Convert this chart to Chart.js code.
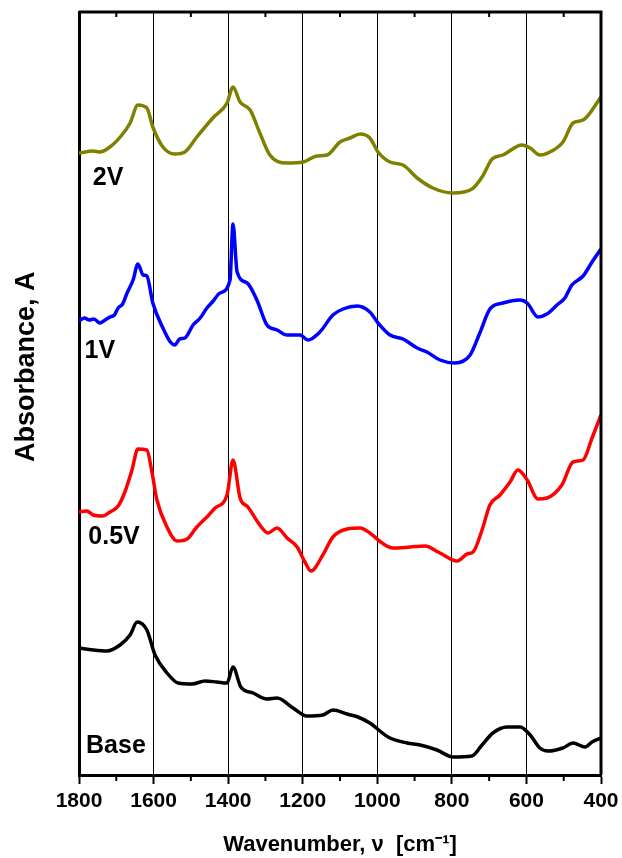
<!DOCTYPE html>
<html>
<head>
<meta charset="utf-8">
<script src="https://cdn.jsdelivr.net/npm/chart.js@4/dist/chart.umd.min.js"></script>
<style>
  html, body { margin: 0; padding: 0; background: #fff; }
  #wrap { width: 622px; height: 858px; position: relative; }
</style>
</head>
<body>
<div id="wrap"><canvas id="chart"></canvas></div>
<script>
'use strict';

// ── Spectra (wavenumber cm-1 / absorbance, offset per curve) ──
const WN_2V = [1800, 1762, 1744, 1717, 1685, 1663, 1642, 1618, 1602, 1575, 1543, 1516, 1484, 1441, 1403, 1387, 1368, 1341, 1315, 1288, 1242, 1199, 1162, 1135, 1100, 1073, 1046, 1020, 998, 966, 931, 893, 851, 797, 746, 719, 692, 663, 612, 590, 564, 537, 502, 475, 448, 400];
const A_2V  = [6.22, 6.24, 6.23, 6.28, 6.40, 6.52, 6.70, 6.67, 6.48, 6.28, 6.21, 6.23, 6.38, 6.57, 6.72, 6.88, 6.73, 6.65, 6.42, 6.20, 6.12, 6.13, 6.19, 6.20, 6.33, 6.37, 6.41, 6.37, 6.23, 6.13, 6.10, 5.97, 5.87, 5.82, 5.86, 5.98, 6.16, 6.20, 6.30, 6.27, 6.20, 6.23, 6.33, 6.52, 6.55, 6.78];

const WN_1V = [1800, 1785, 1773, 1760, 1744, 1730, 1717, 1705, 1695, 1683, 1671, 1655, 1642, 1628, 1618, 1602, 1575, 1555, 1543, 1530, 1516, 1494, 1475, 1457, 1440, 1422, 1395, 1387, 1376, 1349, 1323, 1296, 1269, 1242, 1207, 1186, 1154, 1119, 1092, 1054, 1020, 998, 966, 931, 893, 867, 832, 792, 751, 725, 698, 663, 617, 598, 569, 545, 518, 497, 478, 448, 424, 400];
const A_1V  = [4.54, 4.57, 4.55, 4.56, 4.52, 4.55, 4.58, 4.60, 4.67, 4.71, 4.82, 4.95, 5.11, 5.00, 4.99, 4.72, 4.47, 4.33, 4.30, 4.36, 4.37, 4.50, 4.57, 4.67, 4.74, 4.82, 4.95, 5.51, 5.03, 4.92, 4.75, 4.50, 4.45, 4.40, 4.40, 4.35, 4.43, 4.60, 4.66, 4.69, 4.63, 4.52, 4.40, 4.36, 4.27, 4.23, 4.15, 4.12, 4.20, 4.42, 4.66, 4.72, 4.75, 4.72, 4.58, 4.61, 4.70, 4.77, 4.90, 4.99, 5.13, 5.26];

const WN_05V = [1800, 1779, 1762, 1736, 1717, 1695, 1677, 1658, 1642, 1618, 1604, 1591, 1564, 1537, 1510, 1484, 1457, 1435, 1403, 1387, 1368, 1347, 1315, 1293, 1269, 1242, 1215, 1194, 1178, 1146, 1119, 1081, 1046, 1020, 987, 958, 912, 872, 832, 786, 759, 743, 719, 698, 671, 644, 623, 598, 569, 545, 505, 475, 448, 424, 400];
const A_05V  = [2.63, 2.64, 2.60, 2.59, 2.63, 2.69, 2.83, 3.05, 3.26, 3.25, 3.02, 2.75, 2.48, 2.34, 2.36, 2.48, 2.58, 2.67, 2.80, 3.15, 2.77, 2.68, 2.50, 2.42, 2.47, 2.37, 2.28, 2.13, 2.04, 2.20, 2.38, 2.46, 2.47, 2.42, 2.32, 2.27, 2.28, 2.29, 2.22, 2.14, 2.21, 2.23, 2.45, 2.70, 2.80, 2.93, 3.05, 2.95, 2.76, 2.77, 2.90, 3.13, 3.15, 3.37, 3.60];

const WN_BASE = [1800, 1762, 1725, 1690, 1663, 1644, 1618, 1596, 1564, 1534, 1497, 1462, 1430, 1403, 1387, 1366, 1333, 1296, 1269, 1226, 1189, 1146, 1119, 1081, 1052, 1020, 971, 920, 885, 840, 797, 746, 719, 690, 652, 617, 590, 564, 542, 502, 475, 443, 424, 400];
const A_BASE  = [1.27, 1.25, 1.24, 1.30, 1.40, 1.53, 1.45, 1.20, 1.02, 0.92, 0.91, 0.94, 0.93, 0.92, 1.08, 0.88, 0.82, 0.76, 0.77, 0.67, 0.59, 0.60, 0.65, 0.61, 0.58, 0.52, 0.38, 0.32, 0.30, 0.25, 0.18, 0.19, 0.30, 0.42, 0.48, 0.48, 0.40, 0.27, 0.24, 0.27, 0.32, 0.28, 0.33, 0.37];

const SERIES_NAMES  = ['2V', '1V', '0.5V', 'Base'];
const SERIES_COLORS = ['#808000', '#0000ff', '#ff0000', '#000000'];
// curve labels, anchored in data units (wavenumber, absorbance)
const LABEL_WN = [1722, 1744, 1706, 1701];
const LABEL_A  = [5.97, 4.24, 2.38, 0.29];

const X_TICKS = [1800, 1600, 1400, 1200, 1000, 800, 600, 400];
const Y_TITLE = 'Absorbance, A';

const FONT = 'Arial, "Liberation Sans", Helvetica, sans-serif';

function pts(xs, ys) { return xs.map((x, i) => ({ x, y: ys[i] })); }

// ── Frame: top/right border, minor ticks, curve labels, y title ──
const framePlugin = {
  id: 'frame',
  afterDraw(chart) {
    const { ctx, chartArea: a, scales } = chart;
    const x = scales.x;
    ctx.save();
    ctx.strokeStyle = '#000';
    ctx.lineWidth = 3;
    ctx.beginPath();
    ctx.moveTo(a.left, a.top);
    ctx.lineTo(a.right, a.top);
    ctx.lineTo(a.right, a.bottom);
    ctx.stroke();

    // minor ticks every 100 cm-1
    ctx.lineWidth = 2;
    ctx.beginPath();
    for (let w = 1700; w > 400; w -= 200) {
      const px = x.getPixelForValue(w);
      ctx.moveTo(px, a.bottom);
      ctx.lineTo(px, a.bottom + 6);
      ctx.moveTo(px, a.top);
      ctx.lineTo(px, a.top + 5);
    }
    ctx.stroke();

    // curve labels
    ctx.fillStyle = '#000';
    ctx.font = 'bold 25px ' + FONT;
    ctx.textAlign = 'center';
    ctx.textBaseline = 'middle';
    SERIES_NAMES.forEach((name, i) => {
      ctx.fillText(name, x.getPixelForValue(LABEL_WN[i]), scales.y.getPixelForValue(LABEL_A[i]));
    });

    // y axis title, sits a little above the axis centre
    ctx.font = 'bold 27px ' + FONT;
    ctx.translate(scales.y.left + 27, a.top + (a.bottom - a.top) * 0.465);
    ctx.rotate(-Math.PI / 2);
    ctx.fillText(Y_TITLE, 0, 0);
    ctx.restore();
  }
};

new Chart(document.getElementById('chart'), {
  type: 'line',
  data: {
    datasets: [
      { label: '2V',   data: pts(WN_2V, A_2V) },
      { label: '1V',   data: pts(WN_1V, A_1V) },
      { label: '0.5V', data: pts(WN_05V, A_05V) },
      { label: 'Base', data: pts(WN_BASE, A_BASE) },
    ].map((d, i) => Object.assign(d, {
      borderColor: SERIES_COLORS[i],
      borderWidth: 3.5,
      pointRadius: 0,
      fill: false,
      cubicInterpolationMode: 'monotone',
    })),
  },
  options: {
    animation: false,
    responsive: true,
    maintainAspectRatio: false,
    layout: { padding: { top: 12, right: 21, bottom: 0, left: 0 } },
    plugins: { legend: { display: false }, tooltip: { enabled: false } },
    scales: {
      x: {
        type: 'linear',
        reverse: true,
        min: 400,
        max: 1800,
        afterBuildTicks: s => { s.ticks = X_TICKS.map(v => ({ value: v })); },
        afterFit: s => { s.height = 83; s.paddingLeft = 0; s.paddingRight = 0; },
        ticks: {
          color: '#000',
          padding: 5,
          maxRotation: 0,
          callback: v => String(v),
          font: { family: FONT, size: 21, weight: 'bold' },
        },
        grid: { color: '#000', lineWidth: 1, tickLength: 9, tickWidth: 2, tickColor: '#000' },
        border: { display: true, color: '#000', width: 3 },
        title: {
          display: true,
          text: 'Wavenumber, \u03bd  [cm\u207b\u00b9]',
          color: '#000',
          padding: { top: 0, bottom: 0 },
          font: { family: FONT, size: 22, weight: 'bold' },
        },
      },
      y: {
        min: 0,
        max: 7.63,
        afterFit: s => { s.width = 79; },
        ticks: { display: false },
        grid: { display: false },
        border: { display: true, color: '#000', width: 3 },
      },
    },
  },
  plugins: [framePlugin],
});
</script>
</body>
</html>
